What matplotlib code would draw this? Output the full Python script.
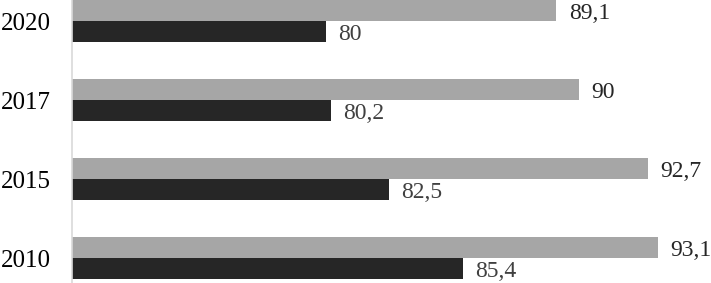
import numpy as np
import matplotlib
matplotlib.use("Agg")
import matplotlib.pyplot as plt

years = ["2010", "2015", "2017", "2020"]
series_gray = [93.1, 92.7, 90.0, 89.1]
series_dark = [85.4, 82.5, 80.2, 80.0]
gray_labels = ["93,1", "92,7", "90", "89,1"]
dark_labels = ["85,4", "82,5", "80,2", "80"]

plt.rcParams["font.family"] = ["Liberation Serif", "DejaVu Serif"]

fig = plt.figure(figsize=(7.11, 2.83), dpi=100)
ax = fig.add_axes([72 / 711, 0, 639 / 711, 1])

y = np.arange(len(years))
h = 0.266
bars_g = ax.barh(y + h / 2, series_gray, height=h, color="#a6a6a6", left=0)
bars_d = ax.barh(y - h / 2, series_dark, height=h, color="#262626", left=0)

txt = ax.bar_label(bars_g, labels=gray_labels, padding=9, fontsize=17, color="#262626")
txt += ax.bar_label(bars_d, labels=dark_labels, padding=9, fontsize=17, color="#404040")
# labels in the original sit a little below the bar centre
for t in txt:
    t.xyann = (9, -2.3)

ax.set_xlim(70, 95.2)
ax.set_ylim(-0.316, 3.266)
ax.set_yticks(y)
ax.set_yticklabels(years, fontsize=18)
ax.tick_params(axis="y", length=0, pad=15.5)
ax.set_xticks([])
for s in ["top", "right", "bottom"]:
    ax.spines[s].set_visible(False)
ax.spines["left"].set_color("#d9d9d9")
ax.spines["left"].set_linewidth(1.2)

fig.savefig("out.png", dpi=100)
